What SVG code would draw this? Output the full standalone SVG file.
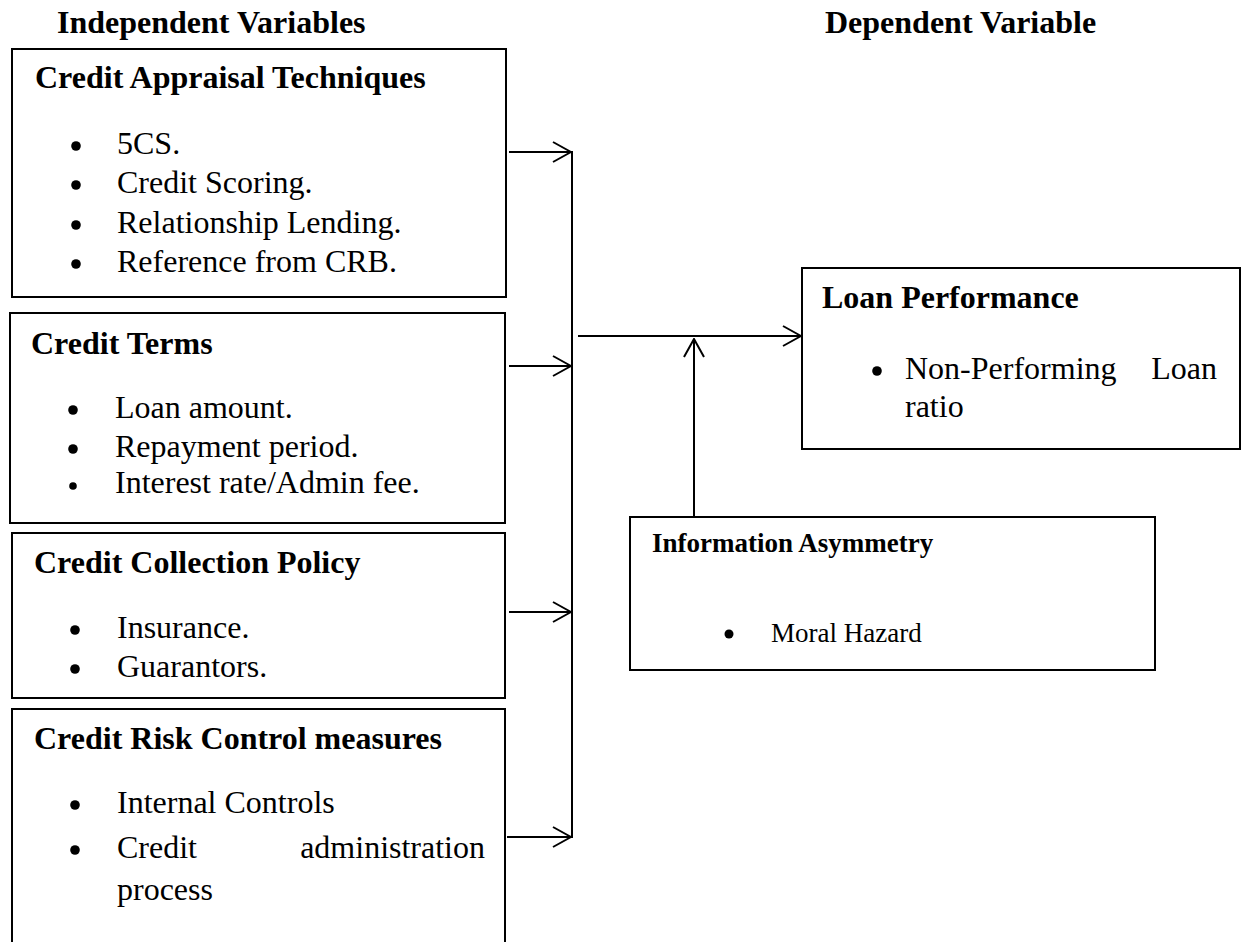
<svg xmlns="http://www.w3.org/2000/svg" width="1243" height="942" viewBox="0 0 1243 942">
  <style>
    text { font-family: "Liberation Serif", "Times New Roman", serif; fill: #000; }
    .h { font-size: 32px; font-weight: bold; }
    .t { font-size: 32px; }
    .hs { font-size: 27px; font-weight: bold; }
    .ts { font-size: 27px; }
    .dot { fill: #000; }
    .box { fill: #fff; stroke: #000; stroke-width: 2; }
    .con { stroke: #000; stroke-width: 2; fill: none; }
  </style>
  <defs>
    <marker id="arr" viewBox="0 0 20 22" refX="19" refY="11" markerWidth="20" markerHeight="22" orient="auto" markerUnits="userSpaceOnUse">
      <path d="M1,1 L19,11 L1,21" fill="none" stroke="#000" stroke-width="2"/>
    </marker>
  </defs>
  <rect width="1243" height="942" fill="#fff"/>

  <g id="titles">
    <text class="h" x="57" y="33">Independent Variables</text>
    <text class="h" x="825" y="33">Dependent Variable</text>
  </g>

  <g id="credit-appraisal">
    <rect class="box" x="12" y="49" width="494" height="248"/>
    <text class="h" x="35" y="88">Credit Appraisal Techniques</text>
    <circle class="dot" cx="76" cy="146" r="4.8"/><text class="t" x="117" y="154">5CS.</text>
    <circle class="dot" cx="76" cy="185" r="4.8"/><text class="t" x="117" y="193">Credit Scoring.</text>
    <circle class="dot" cx="76" cy="225" r="4.8"/><text class="t" x="117" y="233">Relationship Lending.</text>
    <circle class="dot" cx="76" cy="264" r="4.8"/><text class="t" x="117" y="272">Reference from CRB.</text>
  </g>

  <g id="credit-terms">
    <rect class="box" x="10" y="313" width="495" height="210"/>
    <text class="h" x="31" y="354">Credit Terms</text>
    <circle class="dot" cx="73" cy="410" r="4.8"/><text class="t" x="115" y="418">Loan amount.</text>
    <circle class="dot" cx="73" cy="449" r="4.8"/><text class="t" x="115" y="457">Repayment period.</text>
    <circle class="dot" cx="73" cy="486" r="3.8"/><text class="t" x="115" y="493">Interest rate/Admin fee.</text>
  </g>

  <g id="credit-collection">
    <rect class="box" x="12" y="533" width="493" height="165"/>
    <text class="h" x="34" y="573">Credit Collection Policy</text>
    <circle class="dot" cx="75" cy="630" r="4.8"/><text class="t" x="117" y="638">Insurance.</text>
    <circle class="dot" cx="75" cy="669" r="4.8"/><text class="t" x="117" y="677">Guarantors.</text>
  </g>

  <g id="credit-risk">
    <rect class="box" x="12" y="709" width="493" height="260"/>
    <text class="h" x="34" y="749">Credit Risk Control measures</text>
    <circle class="dot" cx="75" cy="805" r="4.8"/><text class="t" x="117" y="813">Internal Controls</text>
    <circle class="dot" cx="75" cy="850" r="4.8"/><text class="t" x="117" y="858">Credit</text>
    <text class="t" x="485" y="858" text-anchor="end">administration</text>
    <text class="t" x="117" y="900">process</text>
  </g>

  <g id="loan-performance">
    <rect class="box" x="802" y="268" width="438" height="181"/>
    <text class="h" x="822" y="308">Loan Performance</text>
    <circle class="dot" cx="877" cy="371" r="4.8"/>
    <text class="t" x="905" y="379">Non-Performing</text>
    <text class="t" x="1217" y="379" text-anchor="end">Loan</text>
    <text class="t" x="905" y="417">ratio</text>
  </g>

  <g id="information-asymmetry">
    <rect class="box" x="630" y="517" width="525" height="153"/>
    <text class="hs" x="652" y="552">Information Asymmetry</text>
    <circle class="dot" cx="729" cy="634" r="4.5"/>
    <text class="ts" x="771" y="642">Moral Hazard</text>
  </g>

  <g id="connectors">
    <line class="con" x1="509" y1="152" x2="571" y2="152" marker-end="url(#arr)"/>
    <line class="con" x1="509" y1="366" x2="571" y2="366" marker-end="url(#arr)"/>
    <line class="con" x1="509" y1="612" x2="571" y2="612" marker-end="url(#arr)"/>
    <line class="con" x1="507" y1="837" x2="571" y2="837" marker-end="url(#arr)"/>
    <line class="con" x1="572" y1="151" x2="572" y2="838"/>
    <line class="con" x1="578" y1="336" x2="801" y2="336" marker-end="url(#arr)"/>
    <line class="con" x1="694" y1="517" x2="694" y2="339" marker-end="url(#arr)"/>
  </g>
</svg>
